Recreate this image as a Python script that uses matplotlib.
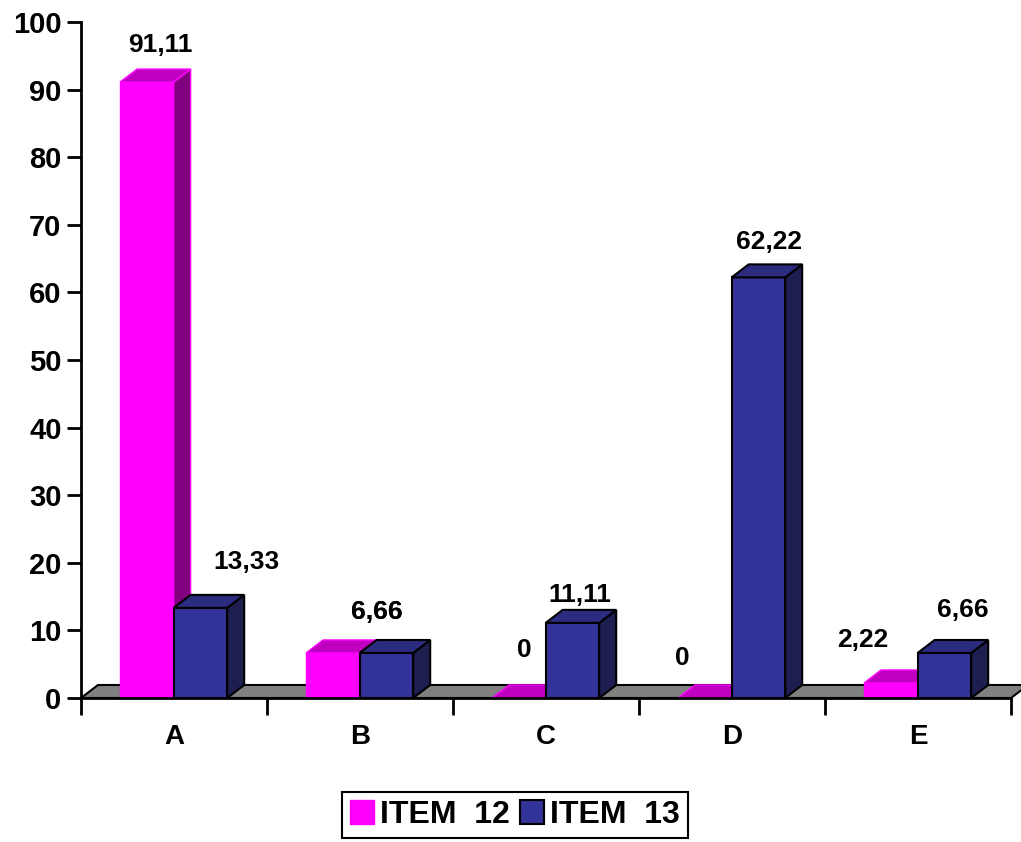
import matplotlib
matplotlib.use('Agg')
import matplotlib.pyplot as plt
from matplotlib.patches import Polygon, Patch

plt.rcParams['font.family'] = ['Liberation Sans', 'DejaVu Sans']
plt.rcParams['font.weight'] = 'bold'

categories = ['A', 'B', 'C', 'D', 'E']
item12 = [91.11, 6.66, 0, 0, 2.22]
item13 = [13.33, 6.66, 11.11, 62.22, 6.66]
series_names = ['ITEM  12', 'ITEM  13']

# label offsets (pixels) from the top-centre of each bar front
off12 = [(13, 37), (43.57, 41), (5, 48), (-23, 40), (-28, 43)]
off13 = [(46, 46), (-10, 41), (7, 28), (11, 35), (18, 43)]

pink = ('#FF00FF', '#C000C0', '#800080')   # front, top, side
blue = ('#333399', '#2B2B80', '#1E1E50')

fig = plt.figure(figsize=(10.21, 8.42), dpi=100)
ax = fig.add_axes([81 / 1021, 144 / 842, 930 / 1021, 676 / 842])
ax.set_xlim(0, 5)
ax.set_ylim(0, 100)

dx = 17 / 186      # depth offset in x units
dy = 13 / 6.76     # depth offset in y units
w = 0.288

# gray floor
ax.add_patch(Polygon([(0, 0), (5, 0), (5 + dx, dy), (dx, dy)], closed=True,
                     facecolor='#808080', edgecolor='black', lw=1.5,
                     clip_on=False, zorder=1))


def bar3d(x0, v, cols, edge, lw):
    front, top, side = cols
    ax.bar(x0, v, width=w, align='edge', color=front, edgecolor=edge,
           linewidth=lw, zorder=3, clip_on=False)
    ax.add_patch(Polygon([(x0 + w, 0), (x0 + w + dx, dy), (x0 + w + dx, v + dy), (x0 + w, v)],
                         closed=True, facecolor=side, edgecolor=edge, lw=lw,
                         zorder=3, clip_on=False))
    ax.add_patch(Polygon([(x0, v), (x0 + w, v), (x0 + w + dx, v + dy), (x0 + dx, v + dy)],
                         closed=True, facecolor=top, edgecolor=edge, lw=lw,
                         zorder=3, clip_on=False))


def fmt(v):
    return '0' if v == 0 else f'{v:.2f}'.replace('.', ',')


for i in range(len(categories)):
    x12 = i + 0.21
    x13 = x12 + w
    bar3d(x12, item12[i], pink, '#FF00FF', 1.0)
    bar3d(x13, item13[i], blue, 'black', 1.5)
    for x0, v, off in ((x12, item12[i], off12[i]), (x13, item13[i], off13[i])):
        ax.annotate(fmt(v), xy=(x0 + w / 2, v), xytext=(off[0] * 0.72, off[1] * 0.72),
                    textcoords='offset points', ha='center', va='center',
                    fontsize=19, fontweight='bold', zorder=5)

for s in ['top', 'right']:
    ax.spines[s].set_visible(False)
ax.spines['left'].set_linewidth(2)
ax.spines['bottom'].set_linewidth(2)
ax.spines['bottom'].set_zorder(4)

ax.set_yticks(range(0, 101, 10))
ax.tick_params(axis='y', direction='out', length=10, width=2, labelsize=21, pad=4)
ax.set_xticks(range(6))
ax.set_xticklabels([])
ax.set_xticks([i + 0.5 for i in range(5)], minor=True)
ax.set_xticklabels(categories, minor=True)
ax.tick_params(axis='x', which='major', direction='out', length=12, width=2)
ax.tick_params(axis='x', which='minor', length=0, labelsize=20, pad=19)

handles = [Patch(facecolor=pink[0], edgecolor=pink[0]),
           Patch(facecolor=blue[0], edgecolor='black', lw=1.5)]
leg = fig.legend(handles, series_names, loc='center', bbox_to_anchor=(515 / 1021, 27 / 842),
                 ncol=2, prop={'weight': 'bold', 'size': 23},
                 handlelength=0.75, handleheight=0.75, handletextpad=0.2,
                 columnspacing=0.3, borderpad=0.25, fancybox=False, framealpha=1)
leg.get_frame().set_edgecolor('black')
leg.get_frame().set_linewidth(1.5)

fig.savefig('out.png', dpi=100)
